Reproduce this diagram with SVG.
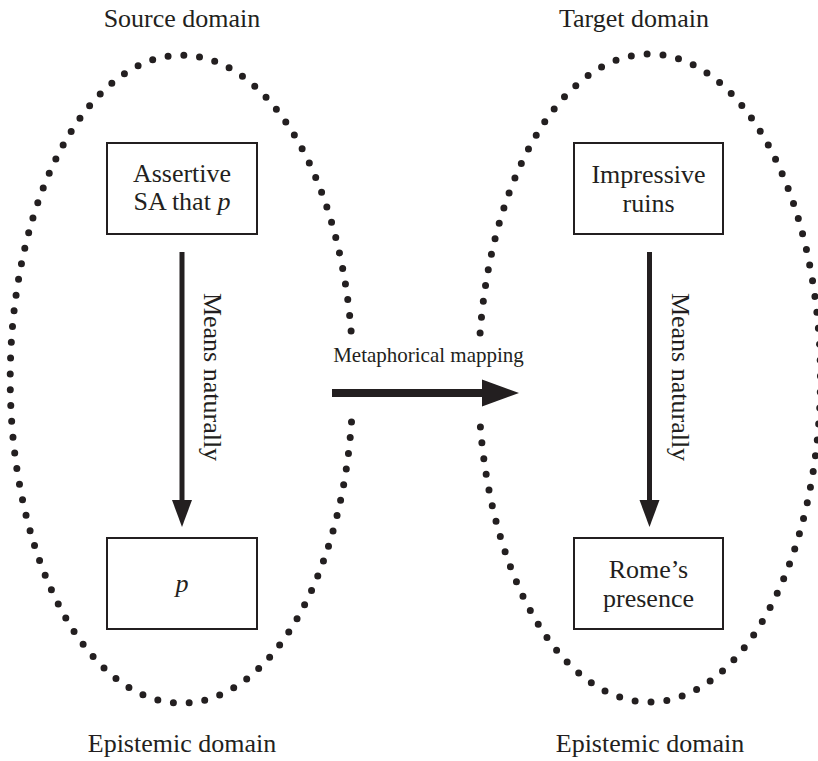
<svg xmlns="http://www.w3.org/2000/svg" width="818" height="761" viewBox="0 0 818 761">
  <style>
    .bg { fill: #ffffff; }
    .txt { font-family: "Liberation Serif", "Times New Roman", serif; font-size: 26px; fill: #231f20; text-anchor: middle; }
    .small { font-size: 21px; }
    .it { font-style: italic; }
    .dots { fill: none; stroke: #231f20; stroke-width: 7; stroke-linecap: round; stroke-dasharray: 0 1; }
    .box { fill: #ffffff; stroke: #231f20; stroke-width: 2; }
    .shaft { fill: #231f20; }
    .head { fill: #231f20; }
  </style>

  <rect class="bg" x="0" y="0" width="818" height="761"/>

  <!-- Domain outlines: dotted ellipses, open where the mapping arrow passes -->
  <g id="source-domain">
    <path class="dots" pathLength="95" d="M 351.5 422 A 171.4 324 0 1 1 351.1 331"/>
    <text class="txt" x="182" y="27">Source domain</text>
    <text class="txt" x="182" y="752">Epistemic domain</text>
  </g>

  <g id="target-domain">
    <path class="dots" pathLength="94" d="M 480.1 333 A 171 324 0 1 1 480.4 427"/>
    <text class="txt" x="634" y="27">Target domain</text>
    <text class="txt" x="650" y="752">Epistemic domain</text>
  </g>

  <!-- Boxes -->
  <g id="assertive-sa">
    <rect class="box" x="107" y="143" width="150" height="91"/>
    <text class="txt" x="182" y="182">Assertive</text>
    <text class="txt" x="182" y="210">SA that <tspan class="it">p</tspan></text>
  </g>

  <g id="p">
    <rect class="box" x="107" y="538" width="150" height="91"/>
    <text class="txt it" x="182" y="592">p</text>
  </g>

  <g id="impressive-ruins">
    <rect class="box" x="574" y="143" width="149" height="91"/>
    <text class="txt" x="648.5" y="183">Impressive</text>
    <text class="txt" x="648.5" y="212">ruins</text>
  </g>

  <g id="romes-presence">
    <rect class="box" x="574" y="538" width="149" height="91"/>
    <text class="txt" x="648.5" y="578">Rome’s</text>
    <text class="txt" x="648.5" y="607">presence</text>
  </g>

  <!-- Connectors -->
  <g id="connectors">
    <!-- Means naturally (source) -->
    <rect class="shaft" x="179.5" y="252" width="5" height="250"/>
    <polygon class="head" points="172,500 192,500 182,527"/>
    <text class="txt" transform="translate(204 377) rotate(90)">Means naturally</text>

    <!-- Means naturally (target) -->
    <rect class="shaft" x="647" y="252" width="5" height="250"/>
    <polygon class="head" points="639.5,500 659.5,500 649.5,527"/>
    <text class="txt" transform="translate(672 377) rotate(90)">Means naturally</text>

    <!-- Metaphorical mapping -->
    <rect class="shaft" x="332" y="389" width="152" height="8"/>
    <polygon class="head" points="482,379.5 519,393 482,406.5"/>
    <text class="txt small" x="428.5" y="362">Metaphorical mapping</text>
  </g>
</svg>
